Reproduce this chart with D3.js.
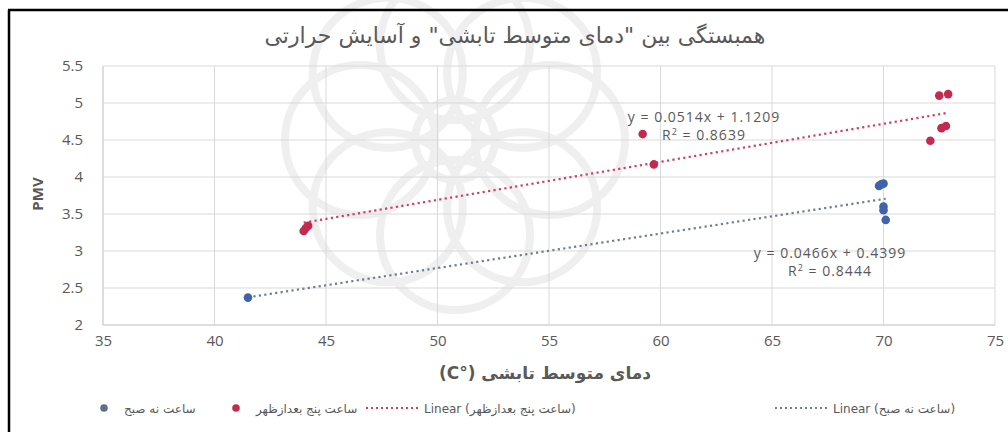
<!DOCTYPE html>
<html>
<head>
<meta charset="utf-8">
<script src="https://cdn.jsdelivr.net/npm/d3@7"></script>
<style>
  html, body { margin: 0; padding: 0; background: #ffffff; }
  svg { display: block; }
  .tick text { font-family: "Open Sans", "DejaVu Sans", sans-serif; fill: #595959; }
</style>
</head>
<body>
<svg id="chart" width="1008" height="432"></svg>
<script>
// Chart text
const chartTitle = 'همبستگی بین "دمای متوسط تابشی" و آسایش حرارتی';
const xAxisTitle = 'دمای متوسط تابشی (°C)';
const yAxisTitle = 'PMV';

// Axis ticks
const xTicks = [35, 40, 45, 50, 55, 60, 65, 70, 75];
const yTicks = [2, 2.5, 3, 3.5, 4, 4.5, 5, 5.5];

// Series: 9 a.m. readings
const morningName = 'ساعت نه صبح';
const morningTemp = [41.5, 69.8, 69.9, 70.0, 70.0, 70.0, 70.1];
const morningPMV  = [2.37, 3.88, 3.90, 3.91, 3.60, 3.55, 3.42];

// Series: 5 p.m. readings
const eveningName = 'ساعت پنج بعدازظهر';
const eveningTemp = [44.0, 44.1, 44.2, 59.2, 59.7, 72.1, 72.6, 72.8, 72.5, 72.9];
const eveningPMV  = [3.27, 3.31, 3.34, 4.58, 4.17, 4.49, 4.66, 4.69, 5.10, 5.12];

// Linear trendlines (slope, intercept, R²)
const morningTrend = [0.0466, 0.4399, 0.8444];
const eveningTrend = [0.0514, 1.1209, 0.8639];

const svg = d3.select('#chart');
const W = 1008, H = 432;
const faFont = '"DejaVu Sans", "Noto Sans", sans-serif';
const grey = '#595959';

// faint background ornament
const orn = svg.append('g').attr('opacity', 0.16);
const oc = [455, 140];
d3.range(8).forEach(i => {
  const a = i * Math.PI / 4;
  orn.append('circle')
    .attr('cx', oc[0] + Math.cos(a) * 95)
    .attr('cy', oc[1] + Math.sin(a) * 95)
    .attr('r', 75)
    .attr('fill', 'none')
    .attr('stroke', '#a0a0a0')
    .attr('stroke-width', 8);
});
orn.append('circle').attr('cx', oc[0]).attr('cy', oc[1]).attr('r', 40)
  .attr('fill', 'none').attr('stroke', '#a0a0a0').attr('stroke-width', 8);

// frame lines
svg.append('line').attr('x1', 8).attr('x2', W).attr('y1', 10).attr('y2', 10)
  .attr('stroke', '#000').attr('stroke-width', 2.5);
svg.append('line').attr('x1', 9).attr('x2', 9).attr('y1', 10).attr('y2', H)
  .attr('stroke', '#000').attr('stroke-width', 2.5);

const x = d3.scaleLinear().domain([35, 75]).range([103, 995]);
const y = d3.scaleLinear().domain([2, 5.5]).range([325, 66]);

// gridlines
const grid = svg.append('g');
grid.selectAll('line.h').data(yTicks).join('line')
  .attr('x1', x(35)).attr('x2', x(75))
  .attr('y1', d => y(d)).attr('y2', d => y(d))
  .attr('stroke', '#d9d9d9').attr('stroke-width', 1);
grid.selectAll('line.v').data(xTicks).join('line')
  .attr('x1', d => x(d)).attr('x2', d => x(d))
  .attr('y1', y(2)).attr('y2', y(5.5))
  .attr('stroke', '#d9d9d9').attr('stroke-width', 1);

// axes
const xAxis = svg.append('g').attr('transform', `translate(0,${y(2)})`)
  .call(d3.axisBottom(x).tickValues(xTicks).tickSize(0).tickPadding(10).tickFormat(d3.format('d')));
xAxis.select('.domain').remove();
xAxis.selectAll('text').attr('font-size', 15);

const yAxis = svg.append('g').attr('transform', `translate(${x(35)},0)`)
  .call(d3.axisLeft(y).tickValues(yTicks).tickSize(0).tickPadding(20).tickFormat(d => String(d)));
yAxis.select('.domain').remove();
yAxis.selectAll('text').attr('font-size', 15);

// axis lines
svg.append('line').attr('x1', x(35)).attr('x2', x(75)).attr('y1', y(2)).attr('y2', y(2))
  .attr('stroke', '#d0d0d0');
svg.append('line').attr('x1', x(35)).attr('x2', x(35)).attr('y1', y(2)).attr('y2', y(5.5))
  .attr('stroke', '#d0d0d0');

// titles
svg.append('text').attr('x', 515).attr('y', 43).attr('text-anchor', 'middle')
  .attr('direction', 'rtl').attr('font-family', faFont).attr('font-size', 22)
  .attr('fill', grey).text(chartTitle);

svg.append('text').attr('x', 545).attr('y', 379).attr('text-anchor', 'middle')
  .attr('direction', 'rtl').attr('font-family', faFont).attr('font-size', 17)
  .attr('font-weight', 'bold').attr('fill', grey).text(xAxisTitle);

svg.append('text').attr('transform', 'translate(43,194) rotate(-90)')
  .attr('text-anchor', 'middle').attr('font-family', '"Open Sans", sans-serif')
  .attr('font-size', 15).attr('font-weight', 'bold').attr('fill', grey).text(yAxisTitle);

// colours
const morningColor = '#3f63ad';
const eveningColor = '#c42a4f';
const morningTrendColor = '#707d8c';
const eveningTrendColor = '#d23d66';

// trendlines
function trendLine(temps, coef, color) {
  const ext = d3.extent(temps);
  svg.append('line')
    .attr('x1', x(ext[0])).attr('y1', y(coef[0] * ext[0] + coef[1]))
    .attr('x2', x(ext[1])).attr('y2', y(coef[0] * ext[1] + coef[1]))
    .attr('stroke', color).attr('stroke-width', 2.2)
    .attr('stroke-dasharray', '2.2 3.3');
}
trendLine(morningTemp, morningTrend, morningTrendColor);
trendLine(eveningTemp, eveningTrend, eveningTrendColor);

// points
function points(temps, vals, color) {
  svg.append('g').selectAll('circle').data(temps).join('circle')
    .attr('cx', d => x(d)).attr('cy', (d, i) => y(vals[i]))
    .attr('r', 4.3).attr('fill', color);
}
points(eveningTemp, eveningPMV, eveningColor);
points(morningTemp, morningPMV, morningColor);

// trendline equations
function equation(cx, cy, coef) {
  const g = svg.append('g').attr('font-family', '"Open Sans", sans-serif')
    .attr('font-size', 14).attr('letter-spacing', 1).attr('fill', grey)
    .attr('text-anchor', 'middle');
  g.append('text').attr('x', cx).attr('y', cy)
    .text(`y = ${coef[0].toFixed(4)}x + ${coef[1].toFixed(4)}`);
  const r = g.append('text').attr('x', cx).attr('y', cy + 18);
  r.append('tspan').text('R');
  r.append('tspan').attr('font-size', 9).attr('dy', -5).text('2');
  r.append('tspan').attr('dy', 5).text(` = ${coef[2].toFixed(4)}`);
}
equation(704, 122, eveningTrend);
equation(830, 258, morningTrend);

// legend
const legY = 409;
const leg = svg.append('g').attr('font-family', faFont).attr('font-size', 12).attr('fill', grey);
const legendItems = [
  { kind: 'dot', color: '#5d6f8c', label: morningName, mx: 104 },
  { kind: 'dot', color: eveningColor, label: eveningName, mx: 236 },
  { kind: 'line', color: eveningTrendColor, label: `Linear (${eveningName})`, mx: 366 },
  { kind: 'line', color: morningTrendColor, label: `Linear (${morningName})`, mx: 775 }
];
legendItems.forEach(it => {
  let tx;
  if (it.kind === 'dot') {
    leg.append('circle').attr('cx', it.mx).attr('cy', legY - 1).attr('r', 3.8).attr('fill', it.color);
    tx = it.mx + 20;
  } else {
    leg.append('line').attr('x1', it.mx).attr('x2', it.mx + 52)
      .attr('y1', legY - 1).attr('y2', legY - 1)
      .attr('stroke', it.color).attr('stroke-width', 2).attr('stroke-dasharray', '2 3');
    tx = it.mx + 58;
  }
  leg.append('text').attr('x', tx).attr('y', legY + 4).text(it.label);
});
</script>
</body>
</html>
